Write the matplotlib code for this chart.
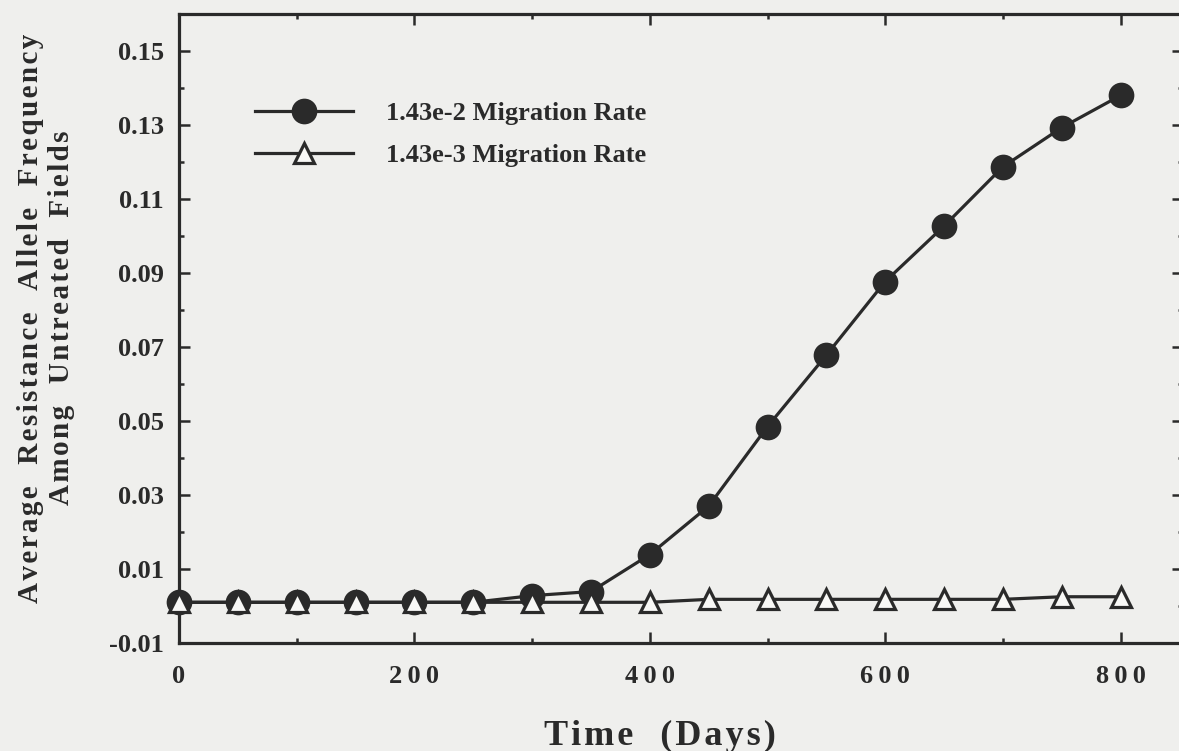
import matplotlib.pyplot as plt
from matplotlib.ticker import MultipleLocator, FixedLocator, FixedFormatter

# Simulation output: mean resistance allele frequency in untreated fields
days = [0, 50, 100, 150, 200, 250, 300, 350, 400, 450, 500, 550, 600, 650, 700, 750, 800]
freq_high = [0.001, 0.001, 0.001, 0.001, 0.001, 0.001, 0.0028, 0.0039, 0.0139,
             0.027, 0.0485, 0.0678, 0.0877, 0.1027, 0.1187, 0.1293, 0.138]
freq_low = [0.001, 0.001, 0.001, 0.001, 0.001, 0.001, 0.001, 0.001, 0.001,
            0.0018, 0.0018, 0.0018, 0.0018, 0.0018, 0.0018, 0.0025, 0.0025]
label_high = "1.43e-2 Migration Rate"
label_low = "1.43e-3 Migration Rate"
x_ticks = [0, 200, 400, 600, 800]
y_ticks = [-0.01, 0.01, 0.03, 0.05, 0.07, 0.09, 0.11, 0.13, 0.15]
y_title = ["Average  Resistance  Allele  Frequency", "Among  Untreated  Fields"]
x_title = "Time  (Days)"

INK = '#2a2a2a'
PAPER = '#efefed'
THIN = '\u2009'
HAIR = '\u200a'


def spaced(s, sep=HAIR):
    # typewriter-style letter spacing
    return sep.join(s)


plt.rcParams['font.family'] = ['Liberation Serif', 'DejaVu Serif']
plt.rcParams['font.weight'] = 'bold'

W, H = 1179, 751
fig = plt.figure(figsize=(W / 100, H / 100), dpi=100, facecolor=PAPER)
ax = fig.add_axes([179 / W, (H - 643) / H, (1183 - 179) / W, (643 - 14) / H])
ax.set_facecolor(PAPER)

ax.plot(days, freq_high, color=INK, lw=2.3, marker='o', ms=17,
        mfc=INK, mec=INK, mew=1.5, label=label_high, zorder=3, clip_on=False)
ax.plot(days, freq_low, color=INK, lw=2.3, marker='^', ms=14.5,
        mfc='#f8f8f6', mec=INK, mew=2.3, label=label_low, zorder=4, clip_on=False)

ax.set_xlim(0, 853)
ax.set_ylim(-0.01, 0.16)

ax.xaxis.set_major_locator(FixedLocator(x_ticks))
ax.xaxis.set_major_formatter(FixedFormatter([THIN.join(str(t)) for t in x_ticks]))
ax.xaxis.set_minor_locator(MultipleLocator(100))
ax.yaxis.set_major_locator(FixedLocator(y_ticks))
ax.yaxis.set_major_formatter(FixedFormatter([f"{v:.2f}" for v in y_ticks]))
ax.yaxis.set_minor_locator(MultipleLocator(0.02))

for s in ax.spines.values():
    s.set_color(INK)
    s.set_linewidth(2.3)

ax.tick_params(which='both', direction='in', top=True, right=True, color=INK, width=1.8)
ax.tick_params(which='major', length=8)
ax.tick_params(which='minor', length=3.5)
ax.tick_params(axis='x', which='major', pad=16, labelsize=19, labelcolor=INK)
ax.tick_params(axis='y', which='major', pad=11, labelsize=19, labelcolor=INK)

leg = ax.legend(loc='upper left', bbox_to_anchor=((255 - 179) / 1004, (643 - 102) / 629),
                frameon=False, fontsize=19, handlelength=3.7, handletextpad=1.25,
                labelspacing=0.68, borderpad=0, borderaxespad=0)
for t in leg.get_texts():
    t.set_color(INK)

fig.text(46 / W, 1 - 318 / H, "\n".join(spaced(line) for line in y_title),
         rotation=90, ha='center', va='center', fontsize=21, color=INK,
         linespacing=1.2, multialignment='center')
fig.text(660 / W, 1 - 745 / H, spaced(x_title), ha='center', va='baseline',
         fontsize=26, color=INK)

fig.savefig('out.png', dpi=100, facecolor=PAPER)
